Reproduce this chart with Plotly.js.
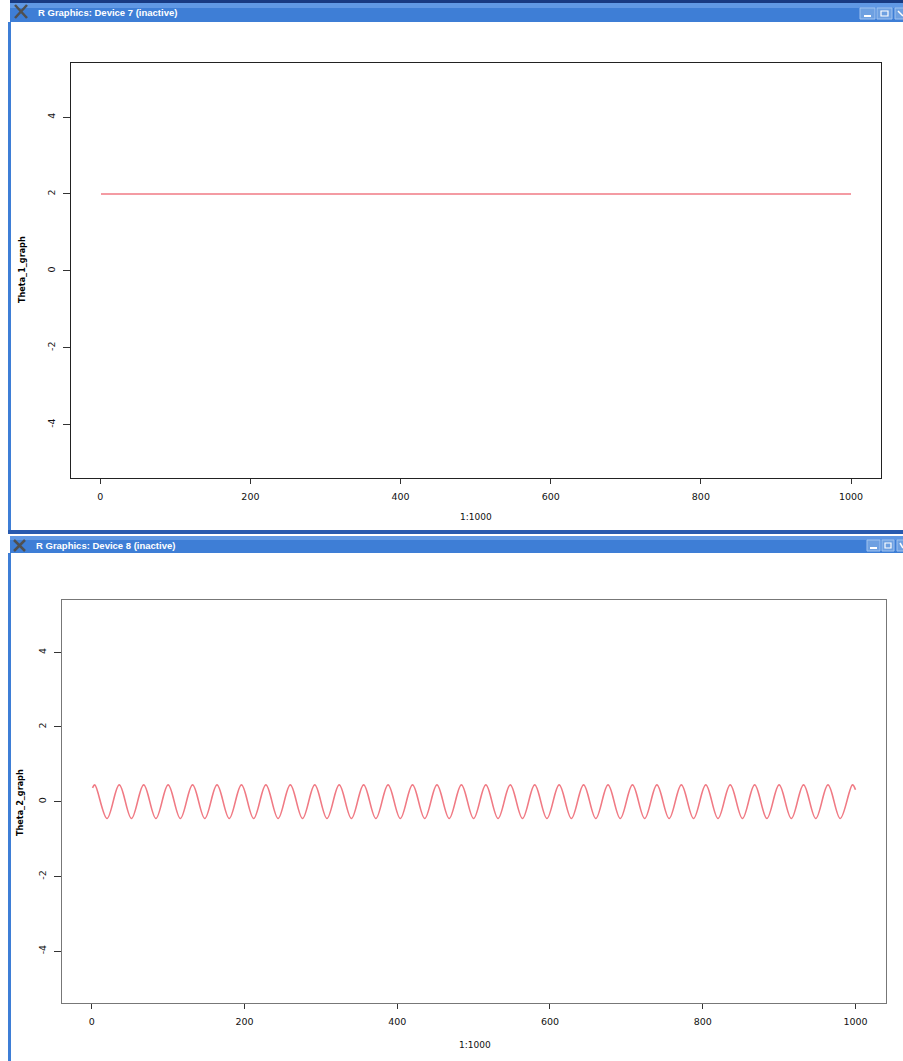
<!DOCTYPE html>
<html>
<head>
<meta charset="utf-8">
<script src="https://cdn.plot.ly/plotly-3.0.1.min.js"></script>
<style>html,body{margin:0;padding:0;background:#fff;}#chart{width:903px;height:1061px;}</style>
</head>
<body>
<div id="chart"></div>
<script>
// ---- data ----
var windowTitles = ["R Graphics: Device 7 (inactive)", "R Graphics: Device 8 (inactive)"];
var xTitle = "1:1000";
var yTitles = ["Theta_1_graph", "Theta_2_graph"];
var xTickVals = [0, 200, 400, 600, 800, 1000];
var xTickText = ["0", "200", "400", "600", "800", "1000"];
var yTickVals = [-4, -2, 0, 2, 4];
var yTickText = ["-4", "-2", "0", "2", "4"];

var theta1_x = [1, 1000];
var theta1_y = [2, 2];

// peaks / troughs of the Theta_2 curve
var theta2_x = [1, 4, 20, 36, 52, 68, 84, 100, 116, 132, 148, 164, 180, 196, 212, 228, 244, 260, 276, 292, 308,
  324, 340, 356, 372, 388, 404, 420, 436, 452, 468, 484, 500, 516, 532, 548, 564, 580, 596, 612, 628,
  644, 660, 676, 692, 708, 724, 740, 756, 772, 788, 804, 820, 836, 852, 868, 884, 900, 916, 932, 948,
  964, 980, 996, 1000];
var theta2_y = [0.37, 0.45, -0.45, 0.45, -0.45, 0.45, -0.45, 0.45, -0.45, 0.45, -0.45, 0.45, -0.45, 0.45, -0.45,
  0.45, -0.45, 0.45, -0.45, 0.45, -0.45, 0.45, -0.45, 0.45, -0.45, 0.45, -0.45, 0.45, -0.45, 0.45, -0.45,
  0.45, -0.45, 0.45, -0.45, 0.45, -0.45, 0.45, -0.45, 0.45, -0.45, 0.45, -0.45, 0.45, -0.45, 0.45, -0.45,
  0.45, -0.45, 0.45, -0.45, 0.45, -0.45, 0.45, -0.45, 0.45, -0.45, 0.45, -0.45, 0.45, -0.45, 0.45, -0.45,
  0.45, 0.32];

// ---- drawing ----
var W = 903, H = 1061;
function px(x) { return x / W; }
function py(y) { return 1 - y / H; }

var lineColor = "rgb(240,122,132)";
var tickFont = {family: "DejaVu Sans, Liberation Sans, sans-serif", size: 9.5, color: "#111"};

var traces = [
  {x: theta1_x, y: theta1_y, type: "scatter", mode: "lines", xaxis: "x", yaxis: "y",
   line: {color: lineColor, width: 1.4}, hoverinfo: "skip", showlegend: false},
  {x: theta2_x, y: theta2_y, type: "scatter", mode: "lines", xaxis: "x2", yaxis: "y2",
   line: {color: lineColor, width: 1.6, shape: "spline", smoothing: 1}, hoverinfo: "skip", showlegend: false}
];

function xax(dom, anchor, lc) {
  return {domain: dom, anchor: anchor, range: [-38.96, 1039.96], tickmode: "array",
    tickvals: xTickVals, ticktext: xTickText, ticks: "outside", ticklen: 5, tickwidth: 1,
    tickcolor: "#333", showgrid: false, zeroline: false, showline: true, mirror: true,
    linecolor: lc, linewidth: 1, tickfont: tickFont, ticklabelstandoff: 4, fixedrange: true};
}
function yax(dom, anchor, lc) {
  return {domain: dom, anchor: anchor, range: [-5.4, 5.4], tickmode: "array",
    tickvals: yTickVals, ticktext: yTickText, ticks: "outside", ticklen: 7, tickwidth: 1,
    tickcolor: "#333", showgrid: false, zeroline: false, showline: true, mirror: true,
    linecolor: lc, linewidth: 1, tickfont: tickFont, tickangle: -90, ticklabelstandoff: 4, fixedrange: true};
}

var barBlue = "rgb(62,126,214)";
var barLight = "rgb(96,152,228)";
var navy = "rgb(24,58,130)";
var shapes = [];
function rect(x0, y0, x1, y1, fill, lc, lw) {
  shapes.push({type: "rect", xref: "paper", yref: "paper", x0: px(x0), x1: px(x1), y0: py(y1), y1: py(y0),
    fillcolor: fill, line: {color: lc || fill, width: lw || 0}, layer: "above"});
}
function seg(x0, y0, x1, y1, col, w) {
  shapes.push({type: "line", xref: "paper", yref: "paper", x0: px(x0), x1: px(x1), y0: py(y0), y1: py(y1),
    line: {color: col, width: w}, layer: "above"});
}

// window 1 chrome
rect(10, 0, 903, 22, barBlue);
rect(10, 0, 903, 3, navy);
rect(10, 3, 903, 8, barLight);
rect(8, 22, 11, 531, barBlue);
// window 1 buttons
[[860, 875], [877, 892], [895, 905]].forEach(function (b) {
  rect(b[0], 8, b[1], 19, "rgb(110,160,225)", "rgb(160,195,240)", 1);
});
seg(864, 16, 871, 16, "#fff", 2);
rect(881, 11, 888, 16, "rgba(0,0,0,0)", "#fff", 1.2);
seg(898, 11, 903, 16, "#fff", 1.5);
// window icon 1
seg(15, 5, 27, 18, "rgb(80,80,80)", 2.5);
seg(27, 5, 15, 18, "rgb(80,80,80)", 2.5);

// separator between windows
rect(8, 530, 903, 534, "rgb(40,90,175)");
// window 2 chrome
rect(10, 536, 903, 553, barBlue);
rect(10, 536, 903, 540, barLight);
rect(8, 553, 11, 1061, barBlue);
[[867, 880], [882, 894], [897, 905]].forEach(function (b) {
  rect(b[0], 540, b[1], 551, "rgb(110,160,225)", "rgb(160,195,240)", 1);
});
seg(870, 548, 877, 548, "#fff", 2);
rect(885, 543, 891, 548, "rgba(0,0,0,0)", "#fff", 1.2);
seg(900, 543, 903, 548, "#fff", 1.5);
seg(14, 540, 25, 551, "rgb(80,80,80)", 2.5);
seg(25, 540, 14, 551, "rgb(80,80,80)", 2.5);

var annFont = {family: "DejaVu Sans Condensed, Liberation Sans Narrow, DejaVu Sans, sans-serif", size: 9, color: "#000"};
var annotations = [
  {text: "<b>" + windowTitles[0] + "</b>", x: px(36), y: py(12.5), xref: "paper", yref: "paper",
   xanchor: "left", yanchor: "middle", showarrow: false,
   font: {family: "Liberation Sans, Arial, sans-serif", size: 9.5, color: "#fff"}},
  {text: "<b>" + windowTitles[1] + "</b>", x: px(34), y: py(545), xref: "paper", yref: "paper",
   xanchor: "left", yanchor: "middle", showarrow: false,
   font: {family: "Liberation Sans, Arial, sans-serif", size: 9.5, color: "#fff"}},
  {text: xTitle, x: px(476), y: py(517), xref: "paper", yref: "paper", xanchor: "center", yanchor: "middle",
   showarrow: false, font: {family: "DejaVu Sans, sans-serif", size: 9, color: "#111"}},
  {text: xTitle, x: px(475), y: py(1045), xref: "paper", yref: "paper", xanchor: "center", yanchor: "middle",
   showarrow: false, font: {family: "DejaVu Sans, sans-serif", size: 9, color: "#111"}},
  {text: "<b>" + yTitles[0] + "</b>", x: px(22), y: py(270), xref: "paper", yref: "paper", xanchor: "center", yanchor: "middle",
   textangle: -90, showarrow: false, font: annFont},
  {text: "<b>" + yTitles[1] + "</b>", x: px(20), y: py(803), xref: "paper", yref: "paper", xanchor: "center", yanchor: "middle",
   textangle: -90, showarrow: false, font: annFont}
];

var layout = {
  width: W, height: H,
  margin: {l: 0, r: 0, t: 0, b: 0, pad: 0},
  paper_bgcolor: "#fff", plot_bgcolor: "#fff",
  showlegend: false,
  xaxis: xax([px(71), px(881)], "y", "#222"),
  yaxis: yax([py(478.3), py(63.3)], "x", "#222"),
  xaxis2: xax([px(62), px(886)], "y2", "#777"),
  yaxis2: yax([py(1003.3), py(600)], "x2", "#777"),
  shapes: shapes,
  annotations: annotations
};

Plotly.newPlot("chart", traces, layout, {displayModeBar: false, staticPlot: true});
</script>
</body>
</html>
